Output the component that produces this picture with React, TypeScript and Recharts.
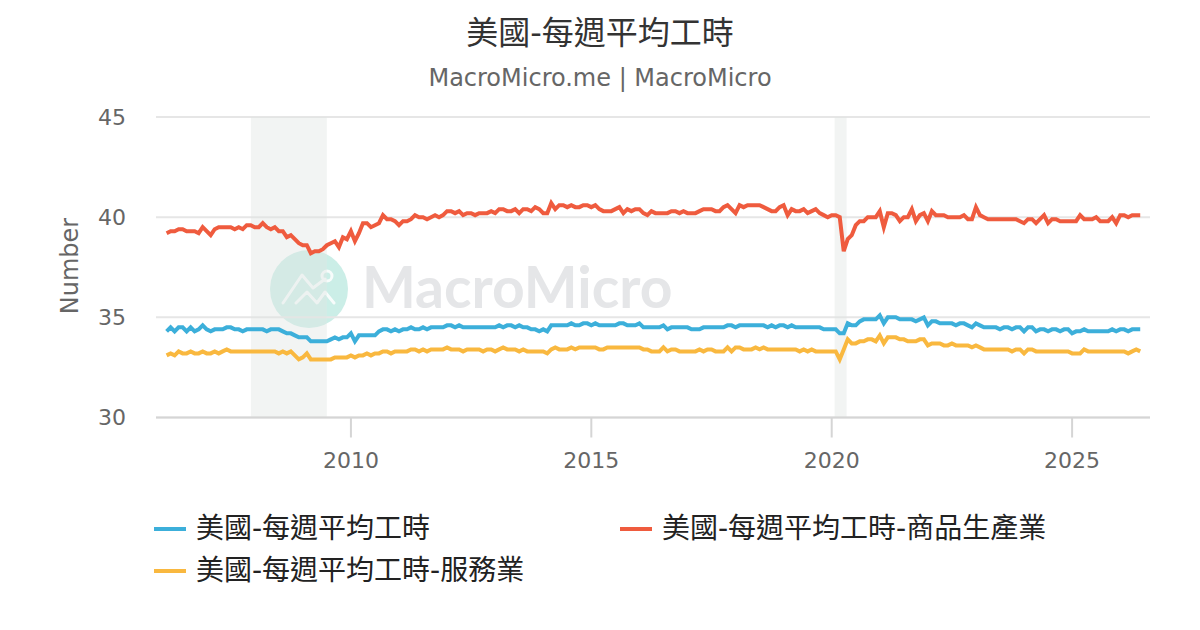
import { LineChart, Line, XAxis, YAxis, CartesianGrid, ReferenceArea, Legend } from 'recharts'

const FONT = '"DejaVu Sans", "Noto Sans CJK TC", sans-serif'

const xTicks = [2010, 2015, 2020, 2025]
const yTicks = [30, 35, 40, 45]

// first value is March 2006, rows are calendar years
const firstYear = 2006
const firstMonth = 2

const totalHours = [
  34.3,34.5,34.3,34.5,34.5,34.3,34.5,34.3,34.4,34.6,
  34.4,34.3,34.4,34.4,34.4,34.5,34.5,34.4,34.4,34.3,34.4,34.4,
  34.4,34.4,34.4,34.3,34.4,34.4,34.4,34.3,34.2,34.2,34.1,34.0,
  34.0,34.0,33.8,33.8,33.8,33.8,33.8,33.9,34.0,33.9,34.0,34.0,
  34.2,33.8,34.1,34.1,34.1,34.1,34.1,34.3,34.4,34.4,34.3,34.4,
  34.3,34.4,34.4,34.5,34.4,34.4,34.5,34.4,34.5,34.5,34.5,34.5,
  34.6,34.6,34.5,34.6,34.5,34.5,34.5,34.5,34.5,34.5,34.5,34.5,
  34.5,34.6,34.5,34.6,34.6,34.5,34.6,34.5,34.5,34.4,34.4,34.3,
  34.4,34.3,34.6,34.6,34.6,34.6,34.6,34.7,34.6,34.6,34.7,34.7,
  34.6,34.7,34.6,34.6,34.6,34.6,34.6,34.7,34.7,34.6,34.6,34.6,
  34.7,34.5,34.5,34.5,34.5,34.5,34.6,34.4,34.5,34.5,34.5,34.5,
  34.5,34.4,34.4,34.4,34.5,34.5,34.5,34.5,34.5,34.5,34.6,34.6,
  34.5,34.6,34.6,34.6,34.6,34.6,34.6,34.6,34.5,34.6,34.5,34.6,
  34.6,34.5,34.6,34.5,34.5,34.5,34.5,34.5,34.5,34.5,34.4,34.4,
  34.4,34.4,34.2,34.2,34.7,34.6,34.6,34.8,34.9,34.9,34.9,34.9,
  35.1,34.7,35.0,35.0,35.0,34.9,34.9,34.9,34.9,34.8,34.9,35.0,
  34.6,34.8,34.8,34.7,34.7,34.7,34.7,34.6,34.7,34.7,34.6,34.5,
  34.7,34.6,34.5,34.5,34.5,34.5,34.4,34.5,34.5,34.4,34.5,34.5,
  34.3,34.5,34.5,34.3,34.4,34.4,34.3,34.4,34.4,34.3,34.4,34.4,
  34.2,34.3,34.3,34.4,34.3,34.3,34.3,34.3,34.3,34.3,34.4,34.3,
  34.4,34.4,34.3,34.4,34.4,34.4,
]

const goodsHours = [
  39.2,39.3,39.3,39.4,39.4,39.3,39.3,39.3,39.2,39.5,
  39.3,39.1,39.4,39.5,39.5,39.5,39.5,39.4,39.5,39.4,39.6,39.6,
  39.5,39.5,39.7,39.5,39.4,39.5,39.3,39.3,39.0,39.1,38.9,38.7,
  38.6,38.6,38.2,38.3,38.3,38.4,38.6,38.7,38.8,38.5,39.0,38.9,
  39.3,38.8,39.2,39.7,39.7,39.5,39.6,39.7,40.1,39.9,39.9,39.8,
  39.6,39.8,39.8,39.9,40.1,40.0,40.0,39.9,40.0,40.1,40.0,40.1,
  40.3,40.3,40.2,40.3,40.1,40.2,40.2,40.1,40.2,40.2,40.2,40.3,
  40.2,40.4,40.4,40.3,40.3,40.4,40.2,40.4,40.4,40.3,40.5,40.4,
  40.2,40.2,40.7,40.4,40.6,40.6,40.5,40.6,40.5,40.5,40.6,40.6,
  40.5,40.6,40.4,40.3,40.3,40.3,40.4,40.5,40.2,40.4,40.3,40.4,
  40.4,40.2,40.1,40.3,40.2,40.2,40.2,40.2,40.3,40.3,40.2,40.3,
  40.2,40.2,40.2,40.3,40.4,40.4,40.4,40.3,40.3,40.5,40.6,40.4,
  40.2,40.6,40.5,40.6,40.6,40.6,40.6,40.5,40.4,40.3,40.3,40.5,
  40.6,40.1,40.4,40.3,40.3,40.4,40.2,40.3,40.4,40.2,40.1,40.0,
  40.1,40.1,40.0,38.3,38.9,39.1,39.6,39.8,39.8,40.0,40.0,40.0,
  40.3,39.5,40.2,40.2,40.1,39.8,40.0,40.0,40.4,39.8,40.1,40.2,
  39.8,40.3,40.1,40.1,40.1,40.0,40.0,40.0,40.0,40.1,39.9,39.9,
  40.5,40.1,40.0,39.9,39.9,39.9,39.9,39.9,39.9,39.9,39.9,39.8,
  39.7,39.9,39.9,39.7,39.9,40.1,39.7,39.9,39.9,39.8,39.8,39.8,
  39.8,39.8,40.1,39.9,39.9,39.9,40.0,39.8,39.8,39.8,40.0,39.7,
  40.1,40.1,40.0,40.1,40.1,40.1,
]

const serviceHours = [
  33.1,33.2,33.1,33.3,33.2,33.2,33.3,33.2,33.2,33.3,
  33.2,33.2,33.3,33.2,33.3,33.4,33.3,33.3,33.3,33.3,33.3,33.3,
  33.3,33.3,33.3,33.3,33.3,33.3,33.2,33.3,33.2,33.3,33.1,32.9,
  33.0,33.2,32.9,32.9,32.9,32.9,32.9,32.9,33.0,33.0,33.0,33.0,
  33.1,33.0,33.1,33.1,33.2,33.1,33.2,33.2,33.3,33.3,33.2,33.3,
  33.3,33.3,33.3,33.4,33.4,33.3,33.4,33.3,33.4,33.4,33.4,33.4,
  33.5,33.4,33.4,33.4,33.3,33.4,33.4,33.4,33.4,33.3,33.4,33.4,
  33.3,33.4,33.5,33.4,33.4,33.4,33.3,33.4,33.3,33.3,33.3,33.3,
  33.3,33.2,33.4,33.5,33.4,33.4,33.4,33.5,33.4,33.5,33.5,33.5,
  33.5,33.5,33.4,33.4,33.5,33.5,33.5,33.5,33.5,33.5,33.5,33.5,
  33.5,33.4,33.4,33.3,33.3,33.3,33.5,33.3,33.4,33.4,33.3,33.3,
  33.3,33.3,33.3,33.4,33.3,33.4,33.4,33.3,33.3,33.3,33.5,33.3,
  33.5,33.5,33.4,33.4,33.4,33.5,33.4,33.5,33.4,33.4,33.4,33.4,
  33.4,33.4,33.4,33.4,33.3,33.4,33.3,33.4,33.3,33.3,33.3,33.3,
  33.3,33.3,32.9,33.4,33.9,33.7,33.7,33.8,33.8,33.9,33.9,33.8,
  34.1,33.7,34.0,34.0,34.0,33.9,33.9,33.8,33.8,33.8,33.9,33.9,
  33.6,33.7,33.7,33.7,33.6,33.6,33.7,33.6,33.6,33.6,33.6,33.5,
  33.6,33.5,33.4,33.4,33.4,33.4,33.4,33.4,33.4,33.3,33.4,33.4,
  33.2,33.4,33.4,33.3,33.3,33.3,33.3,33.3,33.3,33.3,33.3,33.3,
  33.2,33.2,33.2,33.4,33.3,33.3,33.3,33.3,33.3,33.3,33.3,33.3,
  33.3,33.3,33.2,33.3,33.4,33.3,
]

const recessions = [
  [2007.92, 2009.5],
  [2020.06, 2020.31],
]

const series = [
  { key: 'total', name: '美國-每週平均工時', color: '#3cafda' },
  { key: 'goods', name: '美國-每週平均工時-商品生產業', color: '#ef5b3e' },
  { key: 'services', name: '美國-每週平均工時-服務業', color: '#f9b83f' },
]

const data = totalHours.map((total, i) => ({
  date: firstYear + (firstMonth + i) / 12,
  total,
  goods: goodsHours[i],
  services: serviceHours[i],
}))

function LegendBox() {
  return (
    <div style={{ position: 'relative', width: 1200, height: 100, fontFamily: FONT, fontSize: 28, color: '#222' }}>
      {series.map((s, i) => (
        <div key={s.key} style={{ position: 'absolute', left: i === 1 ? 620 : 154, top: i === 2 ? 42 : 0, display: 'flex', alignItems: 'center', whiteSpace: 'nowrap', height: 36 }}>
          <span style={{ display: 'inline-block', position: 'relative', top: 3, width: 32, height: 4, background: s.color, marginRight: 10 }} />
          {s.name}
        </div>
      ))}
    </div>
  )
}

function Watermark() {
  return (
    <svg width={1200} height={630} style={{ position: 'absolute', left: 0, top: 0 }}>
      <circle cx={309} cy={289} r={39} fill="#cbeee7" />
      <g fill="none" stroke="#fff" strokeWidth={3} strokeLinecap="round" strokeLinejoin="round" opacity={0.85}>
        <polyline points="283,303 302,275 313,288 325,279" />
        <polyline points="296,303 307,292 317,303 325,292 334,303" />
        <circle cx={327} cy={276} r={5} />
      </g>
      <text x={362} y={308} fontFamily='"Lato", sans-serif' fontWeight={700} fontSize={57} fill="#e5e6e8">MacroMicro</text>
    </svg>
  )
}

export default function App() {
  return (
    <div style={{ position: 'absolute', left: 0, top: 0, width: 1200, height: 630, background: '#fff', overflow: 'hidden' }}>
      <Watermark />
      <div style={{ position: 'absolute', left: 0, top: 7, width: 1200, textAlign: 'center', fontFamily: FONT, fontSize: 32, color: '#333' }}>
        美國-每週平均工時
      </div>
      <div style={{ position: 'absolute', left: 0, top: 64, width: 1200, textAlign: 'center', fontFamily: FONT, fontSize: 24, color: '#666' }}>
        MacroMicro.me | MacroMicro
      </div>
      <div style={{ position: 'absolute', left: 0, top: 0 }}>
        <LineChart width={1200} height={630} data={data} margin={{ top: 117, right: 50, left: 96, bottom: 0 }}>
          <CartesianGrid vertical={false} stroke="#e6e6e6" strokeWidth={2} />
          <XAxis
            dataKey="date"
            type="number"
            domain={[2005.946, 2026.62]}
            ticks={xTicks}
            allowDataOverflow
            height={112.5}
            tickSize={20}
            tickMargin={15}
            stroke="#d5d5d5"
            strokeWidth={2}
            tick={{ fontSize: 22, fill: '#666', fontFamily: FONT }}
          />
          <YAxis
            domain={[30, 45]}
            ticks={yTicks}
            width={60}
            axisLine={false}
            tickLine={false}
            tickMargin={24}
            tick={{ fontSize: 22, fill: '#666', fontFamily: FONT }}
            label={{ value: 'Number', angle: -90, position: 'insideLeft', offset: 0, dx: -27, dy: 47, fontSize: 24, fill: '#666', fontFamily: FONT }}
          />
          {recessions.map(([x1, x2]) => (
            <ReferenceArea key={x1} x1={x1} x2={x2} fill="#dfe5e3" fillOpacity={0.42} stroke="none" />
          ))}
          {series.map((s) => (
            <Line key={s.key} dataKey={s.key} name={s.name} stroke={s.color} strokeWidth={4} dot={false} isAnimationActive={false} strokeLinejoin="miter" />
          ))}
          <Legend content={<LegendBox />} wrapperStyle={{ left: 0, top: 508, width: 1200 }} />
        </LineChart>
      </div>
    </div>
  )
}
